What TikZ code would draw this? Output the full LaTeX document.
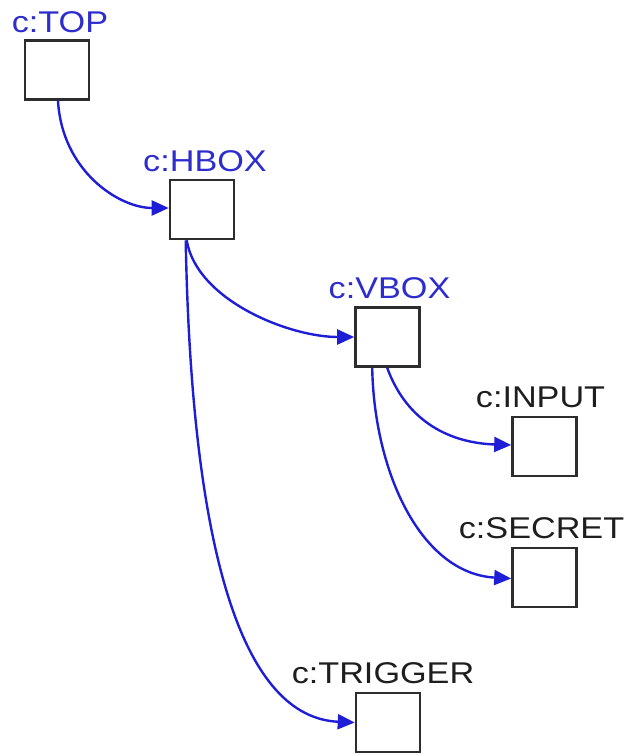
\documentclass[tikz,border=0pt]{standalone}
\usepackage{fontspec}
\newfontfamily\lblfont[FakeStretch=1.14]{Liberation Sans}
\usetikzlibrary{arrows.meta}
\definecolor{edgeblue}{RGB}{30,30,215}
\definecolor{lblblue}{RGB}{45,45,205}
\definecolor{lbldark}{RGB}{30,30,30}
\definecolor{boxgray}{RGB}{45,45,45}
\tikzset{
  cbox/.style={draw=boxgray, line width=2.6pt, fill=white, minimum width=64pt, minimum height=59pt, inner sep=0pt},
  lbl/.style={font=\lblfont\fontsize{30}{30}\selectfont, anchor=base, inner sep=0pt},
  edge/.style={draw=edgeblue, line width=2.4pt, -{Triangle[length=17pt,width=15pt]}}
}
\begin{document}
\begin{tikzpicture}[x=1pt,y=-1pt]
\useasboundingbox (0,0) rectangle (628,756);
\node[cbox] (top) at (57,70) {};
\node[cbox] (hbox) at (202,209.5) {};
\node[cbox] (vbox) at (387.5,337) {};
\node[cbox] (input) at (544.5,446.5) {};
\node[cbox] (secret) at (544.5,577.5) {};
\node[cbox] (trigger) at (388,722.5) {};
\node[lbl,text=lblblue] (topl) at ([xshift=3pt,yshift=7pt]top.north) {c:TOP};
\node[lbl,text=lblblue] (hboxl) at ([xshift=3pt,yshift=7pt]hbox.north) {c:HBOX};
\node[lbl,text=lblblue] (vboxl) at ([xshift=2pt,yshift=8pt]vbox.north) {c:VBOX};
\node[lbl,text=lbldark] (inputl) at ([xshift=-4pt,yshift=8pt]input.north) {c:INPUT};
\node[lbl,text=lbldark] (secretl) at ([xshift=-3pt,yshift=8pt]secret.north) {c:SECRET};
\node[lbl,text=lbldark] (triggerl) at ([xshift=-5pt,yshift=8pt]trigger.north) {c:TRIGGER};
\draw[edge] ([xshift=1pt]top.south) .. controls +(4,70) and +(-50,0) .. ([yshift=1.5pt]hbox.west);
\draw[edge] ([xshift=18pt]hbox.south west) .. controls +(10,60) and +(-65,0) .. (vbox.west);
\draw[edge] ([xshift=17pt]hbox.south west) .. controls +(6,320) and +(-110,-5) .. (trigger.west);
\draw[edge] ([xshift=33pt]vbox.south west) .. controls +(20,55) and +(-60,-2) .. ([yshift=1.5pt]input.west);
\draw[edge] ([xshift=18pt]vbox.south west) .. controls +(2,105) and +(-90,-5) .. ([yshift=-1pt]secret.west);
\end{tikzpicture}
\end{document}
